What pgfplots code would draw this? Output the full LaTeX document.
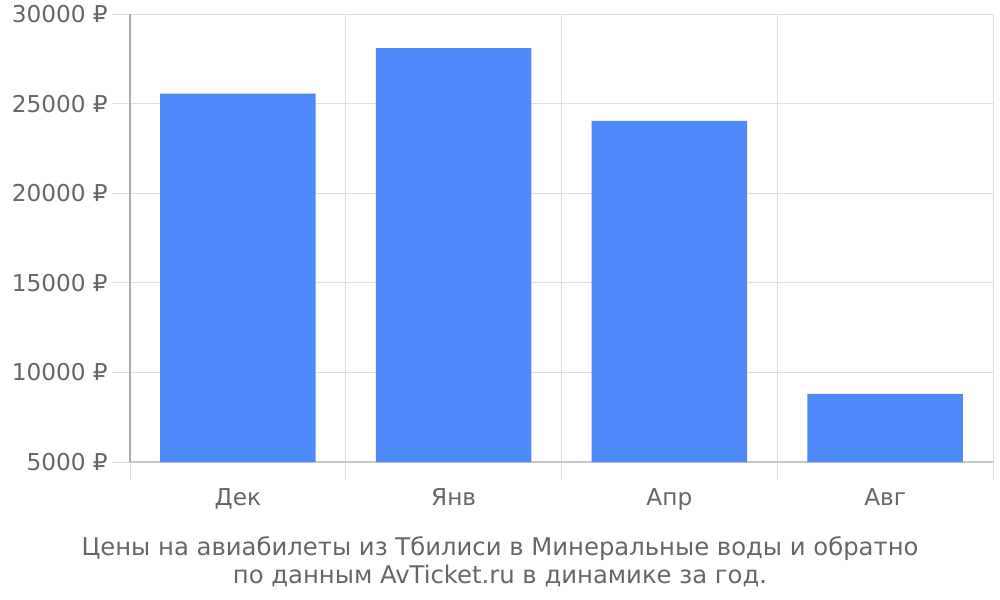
\documentclass[border=0pt]{standalone}
\usepackage{fontspec}
\setmainfont{DejaVu Sans}
\usepackage{pgfplots}
\pgfplotsset{compat=1.18}
\definecolor{barblue}{RGB}{77,137,249}
\definecolor{txtgray}{RGB}{102,102,102}
\definecolor{gridgray}{RGB}{222,222,222}
\definecolor{axisgray}{RGB}{170,170,170}
\definecolor{basegray}{RGB}{200,200,200}
\begin{document}
\begin{tikzpicture}
\begin{axis}[
    scale only axis,
    width=863bp, height=448bp,
    xmin=-0.5, xmax=3.5,
    ymin=5000, ymax=30000,
    scaled y ticks=false,
    axis x line*=bottom, axis y line*=left,
    x axis line style={basegray, line width=1.2pt},
    y axis line style={axisgray, line width=1.2pt},
    xtick={0,1,2,3},
    xticklabels={Дек,Янв,Апр,Авг},
    minor xtick={-0.5,0.5,1.5,2.5,3.5},
    ytick={5000,10000,15000,20000,25000,30000},
    minor ytick={5000,10000,15000,20000,25000,30000},
    yticklabels={5000 ₽,10000 ₽,15000 ₽,20000 ₽,25000 ₽,30000 ₽},
    major tick length=0pt,
    minor tick length=18bp,
    tick align=outside,
    xminorgrids=true, ymajorgrids=true,
    grid style={gridgray, line width=0.9pt},
    minor grid style={gridgray, line width=0.9pt},
    minor tick style={gridgray, line width=0.9pt},
    tick label style={font=\fontsize{23.3}{27}\selectfont, text=txtgray, inner sep=0pt},
    yticklabel style={anchor=east, xshift=-22bp},
    xticklabel style={anchor=north, yshift=-26bp},
    ybar, bar width=0.72,
    clip=true,
]
\addplot[fill=barblue, draw=none] coordinates {
    (0,25550) (1,28100) (2,24030) (3,8800)
};
\end{axis}
\node[align=center, text=txtgray, font=\fontsize{24.4}{28}\selectfont] at (370bp,-100bp)
    {Цены на авиабилеты из Тбилиси в Минеральные воды и обратно\\по данным AvTicket.ru в динамике за год.};
\pgfresetboundingbox
\path[use as bounding box] (-130bp,-138bp) rectangle (870bp,462bp);
\end{tikzpicture}
\end{document}
